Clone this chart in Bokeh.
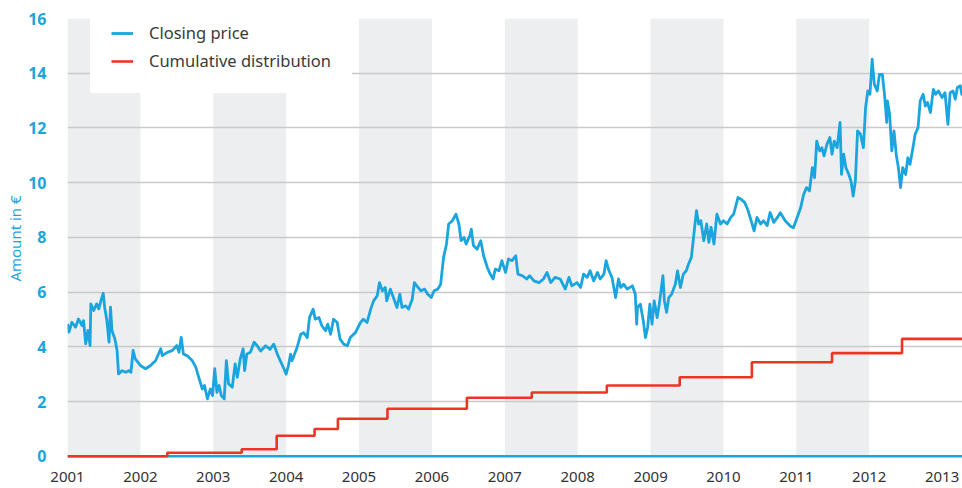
from bokeh.plotting import figure
from bokeh.models import Legend, LegendItem, FixedTicker, Range1d, Span
from bokeh.embed import file_html
from bokeh.resources import INLINE

# ---- data ----
price_dates = [
    2001.00, 2001.02, 2001.06, 2001.11, 2001.15, 2001.20, 2001.22, 2001.25, 2001.28, 2001.31,
    2001.32, 2001.36, 2001.40, 2001.43, 2001.46, 2001.49, 2001.51, 2001.54, 2001.57, 2001.59,
    2001.61, 2001.65, 2001.68, 2001.70, 2001.75, 2001.80, 2001.84, 2001.87, 2001.90, 2001.93,
    2002.00, 2002.07, 2002.14, 2002.21, 2002.28, 2002.30, 2002.37, 2002.44, 2002.50, 2002.53,
    2002.56, 2002.59, 2002.64, 2002.71, 2002.76, 2002.80, 2002.85, 2002.88, 2002.92, 2002.96,
    2002.99, 2003.02, 2003.05, 2003.08, 2003.11, 2003.15, 2003.18, 2003.21, 2003.26, 2003.30,
    2003.33, 2003.37, 2003.41, 2003.43, 2003.46, 2003.51, 2003.56, 2003.60, 2003.65, 2003.72,
    2003.78, 2003.83, 2003.88, 2003.92, 2003.97, 2004.00, 2004.03, 2004.06, 2004.08, 2004.15,
    2004.20, 2004.24, 2004.29, 2004.32, 2004.37, 2004.40, 2004.45, 2004.49, 2004.54, 2004.57,
    2004.61, 2004.65, 2004.70, 2004.74, 2004.79, 2004.84, 2004.88, 2004.95, 2005.02, 2005.06,
    2005.11, 2005.16, 2005.20, 2005.25, 2005.28, 2005.32, 2005.36, 2005.38, 2005.43, 2005.48,
    2005.52, 2005.56, 2005.59, 2005.64, 2005.68, 2005.73, 2005.76, 2005.81, 2005.85, 2005.90,
    2005.94, 2005.99, 2006.03, 2006.08, 2006.12, 2006.16, 2006.20, 2006.23, 2006.28, 2006.33,
    2006.37, 2006.40, 2006.44, 2006.47, 2006.52, 2006.54, 2006.57, 2006.62, 2006.67, 2006.71,
    2006.76, 2006.80, 2006.84, 2006.87, 2006.92, 2006.96, 2007.01, 2007.05, 2007.10, 2007.15,
    2007.18, 2007.24, 2007.30, 2007.34, 2007.40, 2007.47, 2007.53, 2007.58, 2007.63, 2007.69,
    2007.76, 2007.83, 2007.88, 2007.92, 2007.99, 2008.04, 2008.08, 2008.13, 2008.17, 2008.22,
    2008.27, 2008.31, 2008.36, 2008.39, 2008.43, 2008.47, 2008.52, 2008.56, 2008.59, 2008.63,
    2008.68, 2008.75, 2008.79, 2008.81, 2008.82, 2008.86, 2008.90, 2008.93, 2008.96, 2008.99,
    2009.02, 2009.05, 2009.09, 2009.12, 2009.17, 2009.19, 2009.22, 2009.25, 2009.29, 2009.34,
    2009.37, 2009.41, 2009.45, 2009.49, 2009.52, 2009.56, 2009.59, 2009.63, 2009.66, 2009.69,
    2009.73, 2009.77, 2009.80, 2009.83, 2009.87, 2009.91, 2009.96, 2010.00, 2010.05, 2010.10,
    2010.14, 2010.20, 2010.24, 2010.29, 2010.33, 2010.38, 2010.42, 2010.46, 2010.51, 2010.55,
    2010.60, 2010.64, 2010.69, 2010.74, 2010.78, 2010.85, 2010.92, 2010.96, 2011.01, 2011.06,
    2011.10, 2011.14, 2011.18, 2011.22, 2011.25, 2011.28, 2011.32, 2011.35, 2011.38, 2011.42,
    2011.46, 2011.49, 2011.52, 2011.56, 2011.60, 2011.62, 2011.65, 2011.68, 2011.72, 2011.75,
    2011.78, 2011.81, 2011.84, 2011.88, 2011.92, 2011.95, 2011.98, 2012.01, 2012.04, 2012.07,
    2012.11, 2012.14, 2012.18, 2012.21, 2012.24, 2012.25, 2012.28, 2012.31, 2012.34, 2012.37,
    2012.40, 2012.43, 2012.46, 2012.50, 2012.53, 2012.56, 2012.60, 2012.63, 2012.67, 2012.70,
    2012.74, 2012.77, 2012.80, 2012.84, 2012.88, 2012.91, 2012.95, 2013.00, 2013.04, 2013.08,
    2013.11, 2013.15, 2013.18, 2013.21, 2013.25, 2013.27, 2013.30,
]
price_values = [
    4.84, 4.54, 4.90, 4.72, 5.02, 4.78, 4.96, 4.11, 4.60, 4.05,
    5.57, 5.33, 5.57, 5.39, 5.70, 5.96, 5.45, 4.96, 4.17, 5.45,
    4.60, 4.29, 3.87, 3.01, 3.13, 3.07, 3.13, 3.07, 3.87, 3.56,
    3.32, 3.20, 3.32, 3.50, 3.93, 3.68, 3.80, 3.87, 4.05, 3.80,
    4.35, 3.74, 3.68, 3.50, 3.26, 2.89, 2.46, 2.59, 2.10, 2.46,
    2.22, 3.20, 2.34, 2.59, 2.22, 2.10, 3.50, 2.65, 2.52, 3.38,
    2.89, 3.56, 3.93, 3.13, 3.74, 3.80, 4.17, 4.05, 3.85, 4.04,
    3.91, 4.10, 3.73, 3.49, 3.20, 3.00, 3.30, 3.73, 3.49, 3.98,
    4.46, 4.52, 4.34, 5.07, 5.38, 5.01, 5.07, 4.77, 4.59, 4.83,
    4.46, 5.01, 4.89, 4.28, 4.10, 4.04, 4.34, 4.52, 4.89, 5.01,
    4.89, 5.38, 5.68, 5.87, 6.35, 6.05, 6.17, 5.68, 6.11, 5.74,
    5.44, 5.93, 5.44, 5.50, 5.38, 5.74, 6.35, 6.17, 6.05, 6.11,
    5.93, 5.80, 6.05, 6.11, 6.29, 7.27, 7.76, 8.49, 8.61, 8.85,
    8.49, 7.88, 8.00, 7.76, 8.06, 8.30, 7.70, 7.57, 7.88, 7.33,
    6.90, 6.66, 6.48, 6.84, 6.78, 7.15, 6.72, 7.21, 7.15, 7.33,
    6.66, 6.60, 6.48, 6.60, 6.41, 6.35, 6.48, 6.72, 6.35, 6.54,
    6.48, 6.11, 6.54, 6.23, 6.35, 6.17, 6.66, 6.54, 6.78, 6.41,
    6.72, 6.48, 6.66, 7.15, 6.78, 6.54, 5.80, 6.48, 6.17, 6.29,
    6.11, 6.23, 5.93, 4.83, 5.44, 5.56, 4.95, 4.34, 4.71, 5.56,
    4.83, 5.68, 5.07, 5.56, 6.60, 5.68, 5.26, 5.80, 5.93, 6.29,
    6.78, 6.17, 6.66, 6.78, 7.02, 7.27, 8.00, 8.98, 8.49, 8.61,
    7.88, 8.49, 7.82, 8.37, 7.76, 8.85, 8.49, 8.61, 8.49, 8.73,
    8.85, 9.46, 9.40, 9.28, 9.04, 8.61, 8.24, 8.73, 8.49, 8.61,
    8.43, 8.91, 8.55, 8.73, 8.90, 8.60, 8.41, 8.35, 8.72, 9.09,
    9.57, 9.82, 9.70, 10.55, 10.18, 11.52, 11.16, 11.28, 10.98, 11.40,
    11.65, 11.04, 11.52, 11.28, 12.20, 10.30, 11.04, 10.55, 10.30, 10.06,
    9.51, 10.06, 11.89, 11.77, 11.28, 12.74, 13.35, 13.23, 14.51, 13.60,
    13.35, 13.96, 13.96, 13.23, 12.20, 12.99, 12.50, 11.16, 11.89, 11.04,
    10.55, 9.82, 10.55, 10.30, 10.91, 10.67, 11.28, 11.77, 12.01, 12.99,
    13.23, 12.80, 12.93, 12.56, 13.41, 13.23, 13.35, 13.11, 13.29, 12.13,
    13.29, 13.35, 13.05, 13.48, 13.54, 13.23, 13.60,
]

dist_dates = [2001.00, 2002.37, 2003.39, 2003.87, 2004.39, 2004.71, 2005.39, 2006.48,
              2007.37, 2008.40, 2009.40, 2010.39, 2011.49, 2012.45, 2013.30]
dist_values = [0.00, 0.13, 0.26, 0.75, 1.00, 1.37, 1.74, 2.14,
               2.33, 2.59, 2.89, 3.44, 3.77, 4.29, 4.29]

year_ticks = [2001, 2002, 2003, 2004, 2005, 2006, 2007, 2008, 2009, 2010, 2011, 2012, 2013]
shaded_years = [2001, 2003, 2005, 2007, 2009, 2011]
y_ticks = [0, 2, 4, 6, 8, 10, 12, 14, 16]

BLUE = "#1aa5df"
RED = "#ee3524"
FONT = "Noto Sans"

p = figure(width=962, height=488, output_backend="svg", toolbar_location=None,
           x_range=Range1d(2001, 2013.28), y_range=Range1d(-0.08, 16),
           min_border_left=67, min_border_top=18, min_border_right=0, min_border_bottom=30,
           background_fill_color="white", border_fill_color="white")
p.outline_line_color = None

# alternating year bands
p.quad(left=shaded_years, right=[y + 1 for y in shaded_years], bottom=0, top=16,
       fill_color="#eceef0", line_color=None, level="underlay")

# baseline
p.add_layout(Span(location=0, dimension="width", line_color=BLUE, line_width=2.5, level="underlay"))

price_r = p.line(price_dates, price_values, line_color=BLUE, line_width=2.8, line_join="round")
dist_r = p.step(dist_dates, dist_values, mode="after", line_color=RED, line_width=2.6)

# axes
p.xaxis.ticker = FixedTicker(ticks=year_ticks)
p.xaxis.axis_line_color = None
p.xaxis.major_tick_line_color = None
p.xaxis.minor_tick_line_color = None
p.xaxis.major_label_text_font = FONT
p.xaxis.major_label_text_font_size = "15px"
p.xaxis.major_label_text_color = "#333333"
p.xaxis.major_label_standoff = 7

p.yaxis.ticker = FixedTicker(ticks=y_ticks)
p.yaxis.axis_line_color = None
p.yaxis.major_tick_line_color = None
p.yaxis.minor_tick_line_color = None
p.yaxis.major_label_text_font = FONT
p.yaxis.major_label_text_font_size = "16px"
p.yaxis.major_label_text_font_style = "bold"
p.yaxis.major_label_text_color = BLUE
p.yaxis.major_label_standoff = 15
p.yaxis.axis_label = "Amount in €"
p.yaxis.axis_label_text_font = FONT
p.yaxis.axis_label_text_font_size = "15px"
p.yaxis.axis_label_text_font_style = "normal"
p.yaxis.axis_label_text_color = BLUE
p.yaxis.axis_label_standoff = 0

p.xgrid.grid_line_color = None
p.ygrid.grid_line_color = "#c9c9c9"
p.ygrid.grid_line_width = 1.5
p.ygrid.ticker = FixedTicker(ticks=y_ticks[1:])

legend = Legend(items=[LegendItem(label="Closing price", renderers=[price_r]),
                       LegendItem(label="Cumulative distribution", renderers=[dist_r])],
                location=(23, 365), margin=0, padding=20, spacing=5,
                glyph_width=22, glyph_height=20, label_height=20, label_standoff=16,
                label_text_font=FONT, label_text_font_size="16.5px", label_text_color="#3a3a3a",
                border_line_color="white", border_line_width=1,
                background_fill_color="white", background_fill_alpha=1.0)
p.add_layout(legend)

open("out.html", "w").write(file_html(p, INLINE))
